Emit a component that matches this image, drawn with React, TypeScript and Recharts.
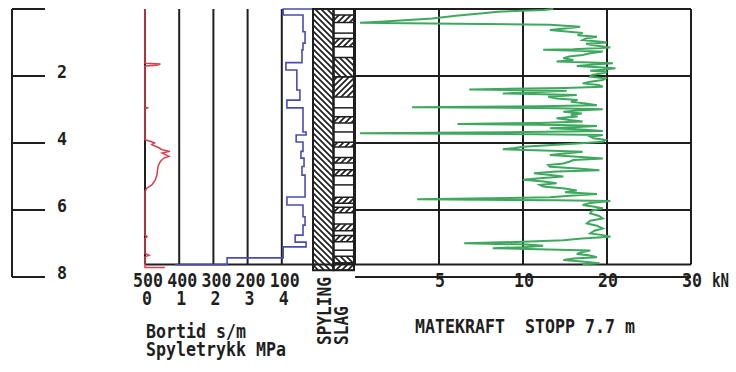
import React from 'react';
import {
  ComposedChart,
  Line,
  XAxis,
  YAxis,
  ReferenceLine,
  ReferenceArea,
  Label
} from 'recharts';

const W = 736;
const H = 372;
const PLOT_TOP = 9;
const DEPTH_BOTTOM = 277; // y of 8 m
const INK = '#1f1f1f';
const FONT = '"DejaVu Sans Mono", "Liberation Mono", monospace';

// depth (m)
const DEPTH_TICKS = [0, 2, 4, 6, 8];
const DEPTH_DOMAIN = [0, 8];
const LOG_END = 7.63;
const COLUMN_END = 7.8;

// Bortid s/m (blue) and Spyletrykk MPa (red)
const BORTID_TICKS = [500, 400, 300, 200, 100];
const SPYLETRYKK_TICKS = [0, 1, 2, 3, 4];

const BORTID = [
  { d: 0, v: 9 }, { d: 0, v: 96 }, { d: 0.18, v: 96 }, { d: 0.18, v: 38 },
  { d: 0.68, v: 38 }, { d: 0.68, v: 32 }, { d: 1.02, v: 32 }, { d: 1.02, v: 38 },
  { d: 1.22, v: 38 }, { d: 1.22, v: 41 }, { d: 1.6, v: 41 }, { d: 1.6, v: 88 },
  { d: 1.82, v: 88 }, { d: 1.82, v: 56 }, { d: 2.42, v: 56 }, { d: 2.42, v: 47 },
  { d: 2.72, v: 47 }, { d: 2.72, v: 85 }, { d: 2.95, v: 85 }, { d: 2.95, v: 38 },
  { d: 3.67, v: 38 }, { d: 3.67, v: 29 }, { d: 3.76, v: 29 }, { d: 3.76, v: 58 },
  { d: 3.97, v: 58 }, { d: 3.97, v: 38 }, { d: 4.25, v: 38 }, { d: 4.25, v: 44 },
  { d: 4.45, v: 44 }, { d: 4.45, v: 35 }, { d: 4.7, v: 35 }, { d: 4.7, v: 41 },
  { d: 4.96, v: 41 }, { d: 4.96, v: 32 }, { d: 5.61, v: 32 }, { d: 5.61, v: 85 },
  { d: 5.85, v: 85 }, { d: 5.85, v: 38 }, { d: 6.2, v: 38 }, { d: 6.2, v: 32 },
  { d: 6.45, v: 32 }, { d: 6.45, v: 38 }, { d: 6.75, v: 38 }, { d: 6.75, v: 61 },
  { d: 6.96, v: 61 }, { d: 6.96, v: 29 }, { d: 7.1, v: 29 }, { d: 7.1, v: 96 },
  { d: 7.43, v: 96 }, { d: 7.43, v: 260 }, { d: 7.63, v: 260 }, { d: 7.63, v: 412 }
];

const SPYLETRYKK = [
  { d: 0, v: 0 }, { d: 1.62, v: 0 }, { d: 1.64, v: 0.45 }, { d: 1.68, v: 0.35 },
  { d: 1.7, v: 0 }, { d: 2.93, v: 0 }, { d: 2.95, v: 0.07 }, { d: 2.98, v: 0 },
  { d: 3.9, v: 0 }, { d: 3.95, v: 0.15 }, { d: 4.0, v: 0.28 }, { d: 4.05, v: 0.2 },
  { d: 4.15, v: 0.42 }, { d: 4.2, v: 0.5 }, { d: 4.25, v: 0.73 }, { d: 4.3, v: 0.5 },
  { d: 4.4, v: 0.7 }, { d: 4.45, v: 0.55 }, { d: 4.55, v: 0.45 }, { d: 4.7, v: 0.38 },
  { d: 4.95, v: 0.35 }, { d: 5.1, v: 0.3 }, { d: 5.25, v: 0.2 }, { d: 5.35, v: 0.05 },
  { d: 5.45, v: 0 }, { d: 6.75, v: 0 }, { d: 6.8, v: 0.06 }, { d: 6.85, v: 0 },
  { d: 7.3, v: 0 }, { d: 7.35, v: 0.12 }, { d: 7.4, v: 0 }, { d: 7.72, v: 0 },
  { d: 7.72, v: 0.58 }
];

// SPYLING / SLAG columns: [from, to, hatch]
const COLUMNS = ['SPYLING', 'SLAG'];
const COLUMN_SPAN = [{ d: 0, c: 0 }, { d: COLUMN_END, c: 2 }];
const SLAG_BLOCKS: [number, number, string][] = [
  [0.18, 0.4, 'up'], [0.88, 1.13, 'up'], [1.45, 2.02, 'down'], [2.02, 2.63, 'up'],
  [3.22, 3.4, 'up'], [3.98, 4.12, 'up'], [4.43, 4.6, 'up'], [4.8, 4.98, 'up'],
  [5.62, 5.8, 'up'], [5.92, 6.08, 'up'], [6.42, 6.62, 'up'], [6.76, 6.95, 'up'],
  [7.38, 7.58, 'down'], [7.58, 7.8, 'up']
];
const SLAG_LINES = [0.72, 2.95, 3.67, 5.25, 7.2];

// Matekraft kN (green); axis is 0-10 kN on the first half, 10-30 kN on the second
const MATEKRAFT_TICKS = [5, 10, 20, 30];
const MATEKRAFT_MAX = 30;
const MATEKRAFT = [
  { d: 0.0, kN: 13.6 }, { d: 0.03, kN: 12.5 }, { d: 0.08, kN: 8.5 }, { d: 0.13, kN: 7.6 },
  { d: 0.2, kN: 6.0 }, { d: 0.28, kN: 4.6 }, { d: 0.38, kN: 1.5 }, { d: 0.41, kN: 0.3 },
  { d: 0.44, kN: 6.0 }, { d: 0.47, kN: 13.2 }, { d: 0.53, kN: 16.8 }, { d: 0.58, kN: 15.0 },
  { d: 0.63, kN: 13.2 }, { d: 0.68, kN: 15.5 }, { d: 0.72, kN: 17.1 }, { d: 0.78, kN: 16.5 },
  { d: 0.83, kN: 18.8 }, { d: 0.88, kN: 17.5 }, { d: 0.93, kN: 17.1 }, { d: 0.97, kN: 19.0 },
  { d: 1.0, kN: 20.0 }, { d: 1.04, kN: 17.5 }, { d: 1.07, kN: 18.0 }, { d: 1.12, kN: 19.5 },
  { d: 1.15, kN: 20.4 }, { d: 1.2, kN: 16.0 }, { d: 1.22, kN: 12.4 }, { d: 1.25, kN: 16.5 },
  { d: 1.27, kN: 19.5 }, { d: 1.32, kN: 18.0 }, { d: 1.37, kN: 17.1 }, { d: 1.42, kN: 15.5 },
  { d: 1.47, kN: 14.8 }, { d: 1.52, kN: 16.0 }, { d: 1.57, kN: 14.0 }, { d: 1.6, kN: 18.0 },
  { d: 1.62, kN: 20.7 }, { d: 1.66, kN: 18.5 }, { d: 1.7, kN: 16.4 }, { d: 1.74, kN: 19.0 },
  { d: 1.77, kN: 21.0 }, { d: 1.81, kN: 19.5 }, { d: 1.84, kN: 18.0 }, { d: 1.88, kN: 20.0 },
  { d: 1.92, kN: 19.5 }, { d: 1.97, kN: 18.2 }, { d: 2.02, kN: 18.0 }, { d: 2.07, kN: 19.8 },
  { d: 2.12, kN: 19.5 }, { d: 2.17, kN: 18.0 }, { d: 2.22, kN: 17.1 }, { d: 2.27, kN: 19.0 },
  { d: 2.32, kN: 19.5 }, { d: 2.36, kN: 15.0 }, { d: 2.4, kN: 6.8 }, { d: 2.44, kN: 15.2 },
  { d: 2.48, kN: 12.0 }, { d: 2.52, kN: 8.8 }, { d: 2.57, kN: 16.4 }, { d: 2.62, kN: 13.0 },
  { d: 2.67, kN: 14.0 }, { d: 2.72, kN: 16.5 }, { d: 2.77, kN: 15.7 }, { d: 2.82, kN: 17.5 },
  { d: 2.87, kN: 18.8 }, { d: 2.9, kN: 12.0 }, { d: 2.93, kN: 3.4 }, { d: 2.96, kN: 14.0 },
  { d: 2.99, kN: 19.5 }, { d: 3.03, kN: 16.5 }, { d: 3.07, kN: 14.8 }, { d: 3.12, kN: 17.0 },
  { d: 3.16, kN: 15.7 }, { d: 3.21, kN: 16.5 }, { d: 3.26, kN: 14.0 }, { d: 3.31, kN: 15.5 },
  { d: 3.36, kN: 17.1 }, { d: 3.4, kN: 12.0 }, { d: 3.43, kN: 6.1 }, { d: 3.46, kN: 14.5 },
  { d: 3.49, kN: 18.8 }, { d: 3.53, kN: 16.0 }, { d: 3.56, kN: 13.2 }, { d: 3.6, kN: 17.0 },
  { d: 3.64, kN: 19.5 }, { d: 3.68, kN: 9.0 }, { d: 3.71, kN: 0.3 }, { d: 3.74, kN: 12.0 },
  { d: 3.76, kN: 19.5 }, { d: 3.81, kN: 18.0 }, { d: 3.86, kN: 18.4 }, { d: 3.91, kN: 19.8 },
  { d: 3.96, kN: 19.5 }, { d: 4.02, kN: 16.0 }, { d: 4.07, kN: 13.0 }, { d: 4.11, kN: 10.0 },
  { d: 4.15, kN: 9.5 }, { d: 4.19, kN: 8.8 }, { d: 4.23, kN: 13.5 }, { d: 4.26, kN: 17.1 },
  { d: 4.31, kN: 15.0 }, { d: 4.36, kN: 13.2 }, { d: 4.41, kN: 16.5 }, { d: 4.46, kN: 19.5 },
  { d: 4.51, kN: 16.0 }, { d: 4.56, kN: 15.5 }, { d: 4.61, kN: 14.8 }, { d: 4.66, kN: 13.0 },
  { d: 4.71, kN: 13.2 }, { d: 4.76, kN: 16.5 }, { d: 4.81, kN: 19.1 }, { d: 4.85, kN: 14.0 },
  { d: 4.9, kN: 11.3 }, { d: 4.95, kN: 13.0 }, { d: 5.0, kN: 14.8 }, { d: 5.05, kN: 12.0 },
  { d: 5.1, kN: 10.0 }, { d: 5.15, kN: 12.5 }, { d: 5.2, kN: 14.0 }, { d: 5.25, kN: 12.0 },
  { d: 5.3, kN: 12.4 }, { d: 5.36, kN: 15.0 }, { d: 5.42, kN: 16.4 }, { d: 5.47, kN: 15.0 },
  { d: 5.52, kN: 18.8 }, { d: 5.57, kN: 16.0 }, { d: 5.62, kN: 13.2 }, { d: 5.65, kN: 8.0 },
  { d: 5.68, kN: 3.7 }, { d: 5.71, kN: 14.0 }, { d: 5.73, kN: 20.4 }, { d: 5.79, kN: 18.0 },
  { d: 5.85, kN: 17.1 }, { d: 5.9, kN: 18.5 }, { d: 5.95, kN: 19.5 }, { d: 6.02, kN: 18.2 },
  { d: 6.1, kN: 18.0 }, { d: 6.17, kN: 19.0 }, { d: 6.25, kN: 19.5 }, { d: 6.32, kN: 18.0 },
  { d: 6.4, kN: 17.6 }, { d: 6.47, kN: 18.8 }, { d: 6.55, kN: 19.5 }, { d: 6.62, kN: 18.5 },
  { d: 6.7, kN: 18.0 }, { d: 6.75, kN: 19.5 }, { d: 6.8, kN: 20.4 }, { d: 6.85, kN: 17.0 },
  { d: 6.9, kN: 14.8 }, { d: 6.95, kN: 10.0 }, { d: 6.99, kN: 6.5 }, { d: 7.03, kN: 10.5 },
  { d: 7.07, kN: 12.4 }, { d: 7.11, kN: 10.0 }, { d: 7.14, kN: 8.2 }, { d: 7.18, kN: 13.0 },
  { d: 7.21, kN: 18.0 }, { d: 7.26, kN: 17.0 }, { d: 7.31, kN: 16.4 }, { d: 7.36, kN: 18.0 },
  { d: 7.41, kN: 18.8 }, { d: 7.45, kN: 16.0 }, { d: 7.49, kN: 14.8 }, { d: 7.54, kN: 17.0 },
  { d: 7.59, kN: 19.1 }, { d: 7.62, kN: 17.1 }
];

// piecewise axis: 0-10 kN full width per kN, 10-30 kN half width
const toAxis = (kN: number) => (kN <= 10 ? kN : 10 + (kN - 10) / 2);
const fromAxis = (u: number) => (u <= 10 ? u : 10 + (u - 10) * 2);

// plotter-style lettering: fixed 10px advance
const PlotText = ({ x, y, text, size = 20, advance = 10, anchor = 'middle', transform }: any) => (
  <text
    x={x}
    y={y}
    transform={transform}
    textAnchor={anchor}
    fontFamily={FONT}
    fontWeight={700}
    fontSize={size}
    fill={INK}
    textLength={text.length * advance}
    lengthAdjust="spacingAndGlyphs"
    style={{ whiteSpace: 'pre' }}
  >
    {text}
  </text>
);

const depthTick = ({ x, y, payload }: any) =>
  payload.value === 0 ? <g /> : <PlotText x={x} y={y + 1.5} text={String(payload.value)} size={18} anchor="start" />;

const bortidTick = ({ x, y, payload }: any) => <PlotText x={x + 3} y={y + 9.7} text={String(payload.value)} size={19} />;

const spylTick = ({ x, y, payload }: any) => <PlotText x={x + 2} y={y + 9} text={String(payload.value)} size={19} />;

const columnTick = ({ x, y, payload, index }: any) => {
  const name = COLUMNS[Math.floor(payload.value)];
  const cx = x + (index === 0 ? 8 : 4);
  const by = y + 68;
  return (
    <PlotText
      x={cx}
      y={by}
      text={name}
      size={19}
      advance={9.7}
      anchor="start"
      transform={`rotate(-90, ${cx}, ${by})`}
    />
  );
};

const kraftTick = ({ x, y, payload }: any) => {
  const kN = fromAxis(payload.value);
  return (
    <g>
      <PlotText x={x + 1} y={y + 10} text={String(kN)} />
      {kN === MATEKRAFT_MAX && <PlotText x={x + 21} y={y + 10} text="kN" advance={8.5} anchor="start" />}
    </g>
  );
};

const bortidTitle = (props: any) => {
  const vb = props.viewBox || { x: 145, y: 296 };
  return (
    <g>
      <PlotText x={vb.x + 1} y={vb.y + 42} text="Bortid s/m" anchor="start" />
      <PlotText x={vb.x + 1} y={vb.y + 59.5} text="Spyletrykk MPa" anchor="start" />
    </g>
  );
};

const kraftTitle = (props: any) => {
  const vb = props.viewBox || { x: 355, y: 277 };
  return <PlotText x={vb.x + 60} y={vb.y + 56} text="MATEKRAFT  STOPP 7.7 m" anchor="start" />;
};

const layer: React.CSSProperties = { position: 'absolute', left: 0, top: 0 };
const gridLine = { stroke: INK, strokeWidth: 2 };

export default function App() {
  return (
    <div style={{ position: 'absolute', left: 0, top: 0, width: W, height: H, background: '#fff' }}>
      {/* depth scale */}
      <div style={layer}>
        <ComposedChart
          width={W}
          height={H}
          layout="vertical"
          data={COLUMN_SPAN}
          margin={{ top: PLOT_TOP, bottom: H - DEPTH_BOTTOM, left: 0, right: W - 12 - 80 }}
        >
          <XAxis type="number" domain={[0, 2]} allowDataOverflow hide />
          <YAxis
            type="number"
            dataKey="d"
            domain={DEPTH_DOMAIN}
            orientation="right"
            width={80}
            ticks={DEPTH_TICKS}
            interval={0}
            tickSize={33}
            tickMargin={12}
            axisLine={gridLine}
            tickLine={gridLine}
            tick={depthTick}
          />
          <Line dataKey="c" stroke="none" dot={false} isAnimationActive={false} />
        </ComposedChart>
      </div>

      {/* Bortid / Spyletrykk */}
      <div style={layer}>
        <ComposedChart
          width={W}
          height={H}
          layout="vertical"
          margin={{ top: PLOT_TOP, bottom: H - DEPTH_BOTTOM - 19 - 30, left: 145, right: W - 316 }}
        >
          <XAxis
            xAxisId="bortid"
            type="number"
            domain={[0, 500]}
            reversed
            ticks={BORTID_TICKS}
            interval={0}
            height={19}
            tickSize={0}
            tickMargin={0}
            axisLine={false}
            tickLine={false}
            tick={bortidTick}
          />
          <XAxis
            xAxisId="spyl"
            type="number"
            domain={[0, 5]}
            ticks={SPYLETRYKK_TICKS}
            interval={0}
            height={30}
            tickSize={0}
            tickMargin={0}
            axisLine={false}
            tickLine={false}
            tick={spylTick}
          >
            <Label content={bortidTitle} />
          </XAxis>
          <YAxis type="number" dataKey="d" domain={DEPTH_DOMAIN} hide />
          {SPYLETRYKK_TICKS.map(t => (
            <ReferenceLine
              key={t}
              xAxisId="spyl"
              segment={[{ x: t, y: 0 }, { x: t, y: LOG_END }]}
              {...gridLine}
            />
          ))}
          <ReferenceLine xAxisId="spyl" segment={[{ x: 0, y: LOG_END }, { x: 5, y: LOG_END }]} {...gridLine} />
          <Line
            xAxisId="bortid"
            data={BORTID}
            dataKey="v"
            type="linear"
            stroke="#4a4cb5"
            strokeWidth={1.6}
            dot={false}
            isAnimationActive={false}
          />
          <Line
            xAxisId="spyl"
            data={SPYLETRYKK}
            dataKey="v"
            type="linear"
            stroke="#dc3d4d"
            strokeWidth={1.5}
            dot={false}
            isAnimationActive={false}
          />
        </ComposedChart>
      </div>

      {/* SPYLING / SLAG columns */}
      <div style={layer}>
        <ComposedChart
          width={W}
          height={H}
          layout="vertical"
          data={COLUMN_SPAN}
          margin={{ top: PLOT_TOP, bottom: H - DEPTH_BOTTOM - 70, left: 313, right: W - 354 }}
        >
          <defs>
            <pattern id="down" patternUnits="userSpaceOnUse" width="6" height="6">
              <path d="M-1,-1 L7,7 M-1,5 L1,7 M5,-1 L7,1" stroke={INK} strokeWidth="1.7" />
            </pattern>
            <pattern id="up" patternUnits="userSpaceOnUse" width="6" height="6">
              <path d="M-1,7 L7,-1 M-1,1 L1,-1 M5,7 L7,5" stroke={INK} strokeWidth="1.7" />
            </pattern>
          </defs>
          <XAxis
            type="number"
            domain={[0, 2]}
            allowDataOverflow
            ticks={[0.5, 1.5]}
            interval={0}
            height={70}
            tickSize={0}
            tickMargin={0}
            axisLine={false}
            tickLine={false}
            tick={columnTick}
          />
          <YAxis type="number" dataKey="d" domain={DEPTH_DOMAIN} hide />
          <Line dataKey="c" stroke="none" dot={false} isAnimationActive={false} />
          <ReferenceArea x1={0} x2={1} y1={0} y2={COLUMN_END} fill="url(#down)" fillOpacity={1} {...gridLine} />
          <ReferenceArea x1={1} x2={2} y1={0} y2={COLUMN_END} fill="none" {...gridLine} />
          {SLAG_BLOCKS.map(([a, b, h]) => (
            <ReferenceArea
              key={a}
              x1={1}
              x2={2}
              y1={a}
              y2={b}
              fill={`url(#${h})`}
              fillOpacity={1}
              stroke={INK}
              strokeWidth={1.5}
            />
          ))}
          {SLAG_LINES.map(d => (
            <ReferenceLine key={d} segment={[{ x: 1, y: d }, { x: 2, y: d }]} stroke={INK} strokeWidth={1.5} />
          ))}
          <ReferenceLine segment={[{ x: 0, y: LOG_END }, { x: 2, y: LOG_END }]} {...gridLine} />
        </ComposedChart>
      </div>

      {/* Matekraft */}
      <div style={layer}>
        <ComposedChart
          width={W}
          height={H}
          layout="vertical"
          margin={{ top: PLOT_TOP, bottom: H - DEPTH_BOTTOM - 30, left: 355, right: W - 691 }}
        >
          <XAxis
            type="number"
            domain={[0, toAxis(MATEKRAFT_MAX)]}
            ticks={MATEKRAFT_TICKS.map(toAxis)}
            interval={0}
            height={30}
            tickSize={0}
            tickMargin={0}
            axisLine={gridLine}
            tickLine={false}
            tick={kraftTick}
          >
            <Label content={kraftTitle} />
          </XAxis>
          <YAxis type="number" dataKey="d" domain={DEPTH_DOMAIN} hide />
          {[0, ...MATEKRAFT_TICKS].map(t => (
            <ReferenceLine
              key={t}
              segment={[{ x: toAxis(t), y: 0 }, { x: toAxis(t), y: LOG_END }]}
              {...gridLine}
            />
          ))}
          {[0, 2, 4, 6, LOG_END].map(d => (
            <ReferenceLine key={d} y={d} {...gridLine} />
          ))}
          <Line
            data={MATEKRAFT}
            dataKey={(p: any) => toAxis(p.kN)}
            type="linear"
            stroke="#3fa85f"
            strokeWidth={2}
            dot={false}
            isAnimationActive={false}
          />
        </ComposedChart>
      </div>
    </div>
  );
}
